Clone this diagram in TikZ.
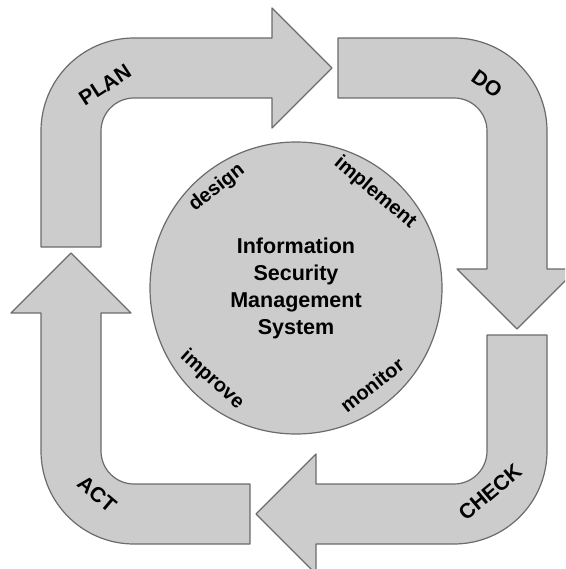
\documentclass[tikz,border=0pt]{standalone}
\usepackage{fontspec}
\setmainfont{Liberation Sans}
\definecolor{shade}{gray}{0.80}
\definecolor{rim}{gray}{0.42}
\tikzstyle{block} = [draw=rim, fill=shade, line width=1.2pt, line join=round]
\tikzstyle{hub} = [circle, draw=rim, fill=shade, line width=1.2pt, minimum size=292pt, align=center, font=\fontsize{21.5}{27}\selectfont\bfseries]
\tikzstyle{phase} = [inner sep=0pt, font=\fontsize{21}{24}\selectfont\bfseries]
\tikzstyle{task} = [inner sep=0pt, font=\fontsize{20}{24}\selectfont\bfseries]

\begin{document}
\begin{tikzpicture}[x=1pt, y=-1pt]
    \useasboundingbox (0,0) rectangle (565,569);
    \clip (0,0) rectangle (565,569);
    % the four bent arrows
    \draw [block] (41,247) -- (41,131) arc[start angle=180, end angle=270, radius=93] -- (272,38) -- (272,8) -- (332,68) -- (272,128) -- (272,98) -- (134,98) arc[start angle=270, end angle=180, radius=33] -- (101,247) -- cycle;
    \draw [block] (338,38) -- (454,38) arc[start angle=270, end angle=360, radius=93] -- (547,269) -- (577,269) -- (517,329) -- (457,269) -- (487,269) -- (487,131) arc[start angle=0, end angle=-90, radius=33] -- (338,98) -- cycle;
    \draw [block] (547,335) -- (547,451) arc[start angle=0, end angle=90, radius=93] -- (316,544) -- (316,574) -- (256,514) -- (316,454) -- (316,484) -- (454,484) arc[start angle=90, end angle=0, radius=33] -- (487,335) -- cycle;
    \draw [block] (250,544) -- (134,544) arc[start angle=90, end angle=180, radius=93] -- (41,313) -- (11,313) -- (71,253) -- (131,313) -- (101,313) -- (101,451) arc[start angle=180, end angle=90, radius=33] -- (134,484) -- (250,484) -- cycle;
    \node (plan) [phase, rotate=33] at (105,85) {PLAN};
    \node (do) [phase, rotate=-35] at (487,84) {DO};
    \node (check) [phase, rotate=40] at (490,492) {CHECK};
    \node (act) [phase, rotate=-40] at (97,494) {ACT};
    % centre
    \node (isms) [hub] at (296,288) {Information\\Security\\Management\\System};
    \node (design) [task, rotate=38] at (217,188) {design};
    \node (implement) [task, rotate=-40] at (375,193) {implement};
    \node (improve) [task, rotate=-42] at (212,380) {improve};
    \node (monitor) [task, rotate=38] at (372,385) {monitor};
\end{tikzpicture}
\end{document}
